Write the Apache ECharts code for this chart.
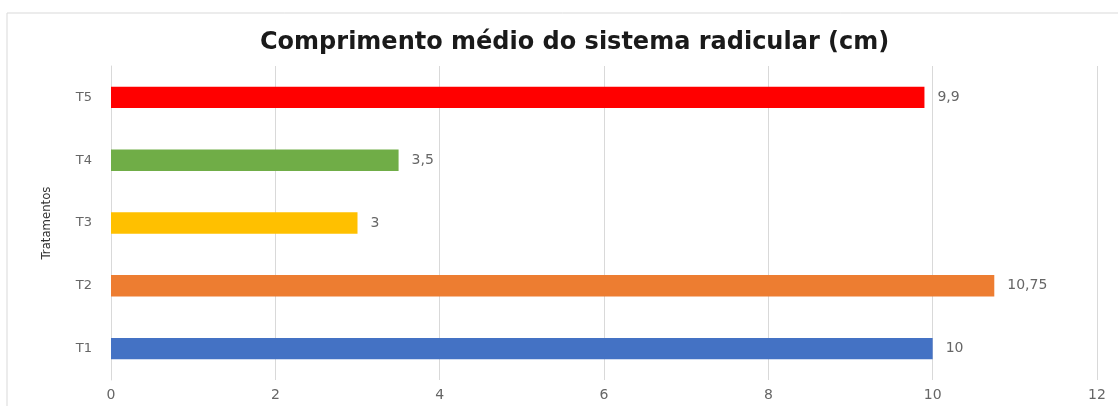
<!DOCTYPE html>
<html><head><meta charset="utf-8">
<script src="https://cdn.jsdelivr.net/npm/echarts@6/dist/echarts.min.js"></script>
<style>html,body{margin:0;padding:0;background:#fff;}#c{width:1118px;height:406px;}</style>
</head><body><div id="c"></div>
<script>
const categories = ['T1','T2','T3','T4','T5'];
const values = [10, 10.75, 3, 3.5, 9.9];
const colors = ['#4472C4','#ED7D31','#FFC000','#70AD47','#FF0000'];
const labels = ['10','10,75','3','3,5','9,9'];

const chart = echarts.init(document.getElementById('c'));
chart.setOption({
  animation: false,
  backgroundColor: '#fff',
  title: {
    text: 'Comprimento médio do sistema radicular (cm)',
    left: 255, top: 26,
    textStyle: {fontFamily: 'DejaVu Sans', fontWeight: 'bold', fontSize: 24, color: '#1a1a1a'}
  },
  graphic: [
    {type: 'line', shape: {x1: 7, y1: 13, x2: 1118, y2: 13}, style: {stroke: '#d9d9d9', lineWidth: 1}},
    {type: 'line', shape: {x1: 7, y1: 13, x2: 7, y2: 406}, style: {stroke: '#d9d9d9', lineWidth: 1}}
  ],
  grid: {left: 111, right: 21, top: 66, bottom: 26, containLabel: false},
  xAxis: {
    type: 'value', min: 0, max: 12, interval: 2,
    axisLine: {show: false}, axisTick: {show: false},
    axisLabel: {color: '#666', fontSize: 14, fontFamily: 'DejaVu Sans', margin: 8},
    splitLine: {lineStyle: {color: '#d9d9d9', width: 1}}
  },
  yAxis: {
    type: 'category', data: categories,
    name: 'Tratamentos', nameLocation: 'middle', nameGap: 58, nameRotate: 90,
    nameTextStyle: {color: '#333', fontSize: 13, fontFamily: 'Liberation Sans Narrow, DejaVu Sans Condensed, sans-serif'},
    axisLine: {show: true, lineStyle: {color: '#d9d9d9'}}, axisTick: {show: false},
    axisLabel: {color: '#666', fontSize: 13, fontFamily: 'DejaVu Sans', margin: 19}
  },
  series: [{
    type: 'bar',
    data: values.map((v, i) => ({value: v, itemStyle: {color: colors[i]}, label: {formatter: labels[i]}})),
    barCategoryGap: '66%',
    label: {show: true, position: 'right', distance: 13, color: '#666', fontSize: 14, fontFamily: 'DejaVu Sans'}
  }]
});
</script></body></html>
